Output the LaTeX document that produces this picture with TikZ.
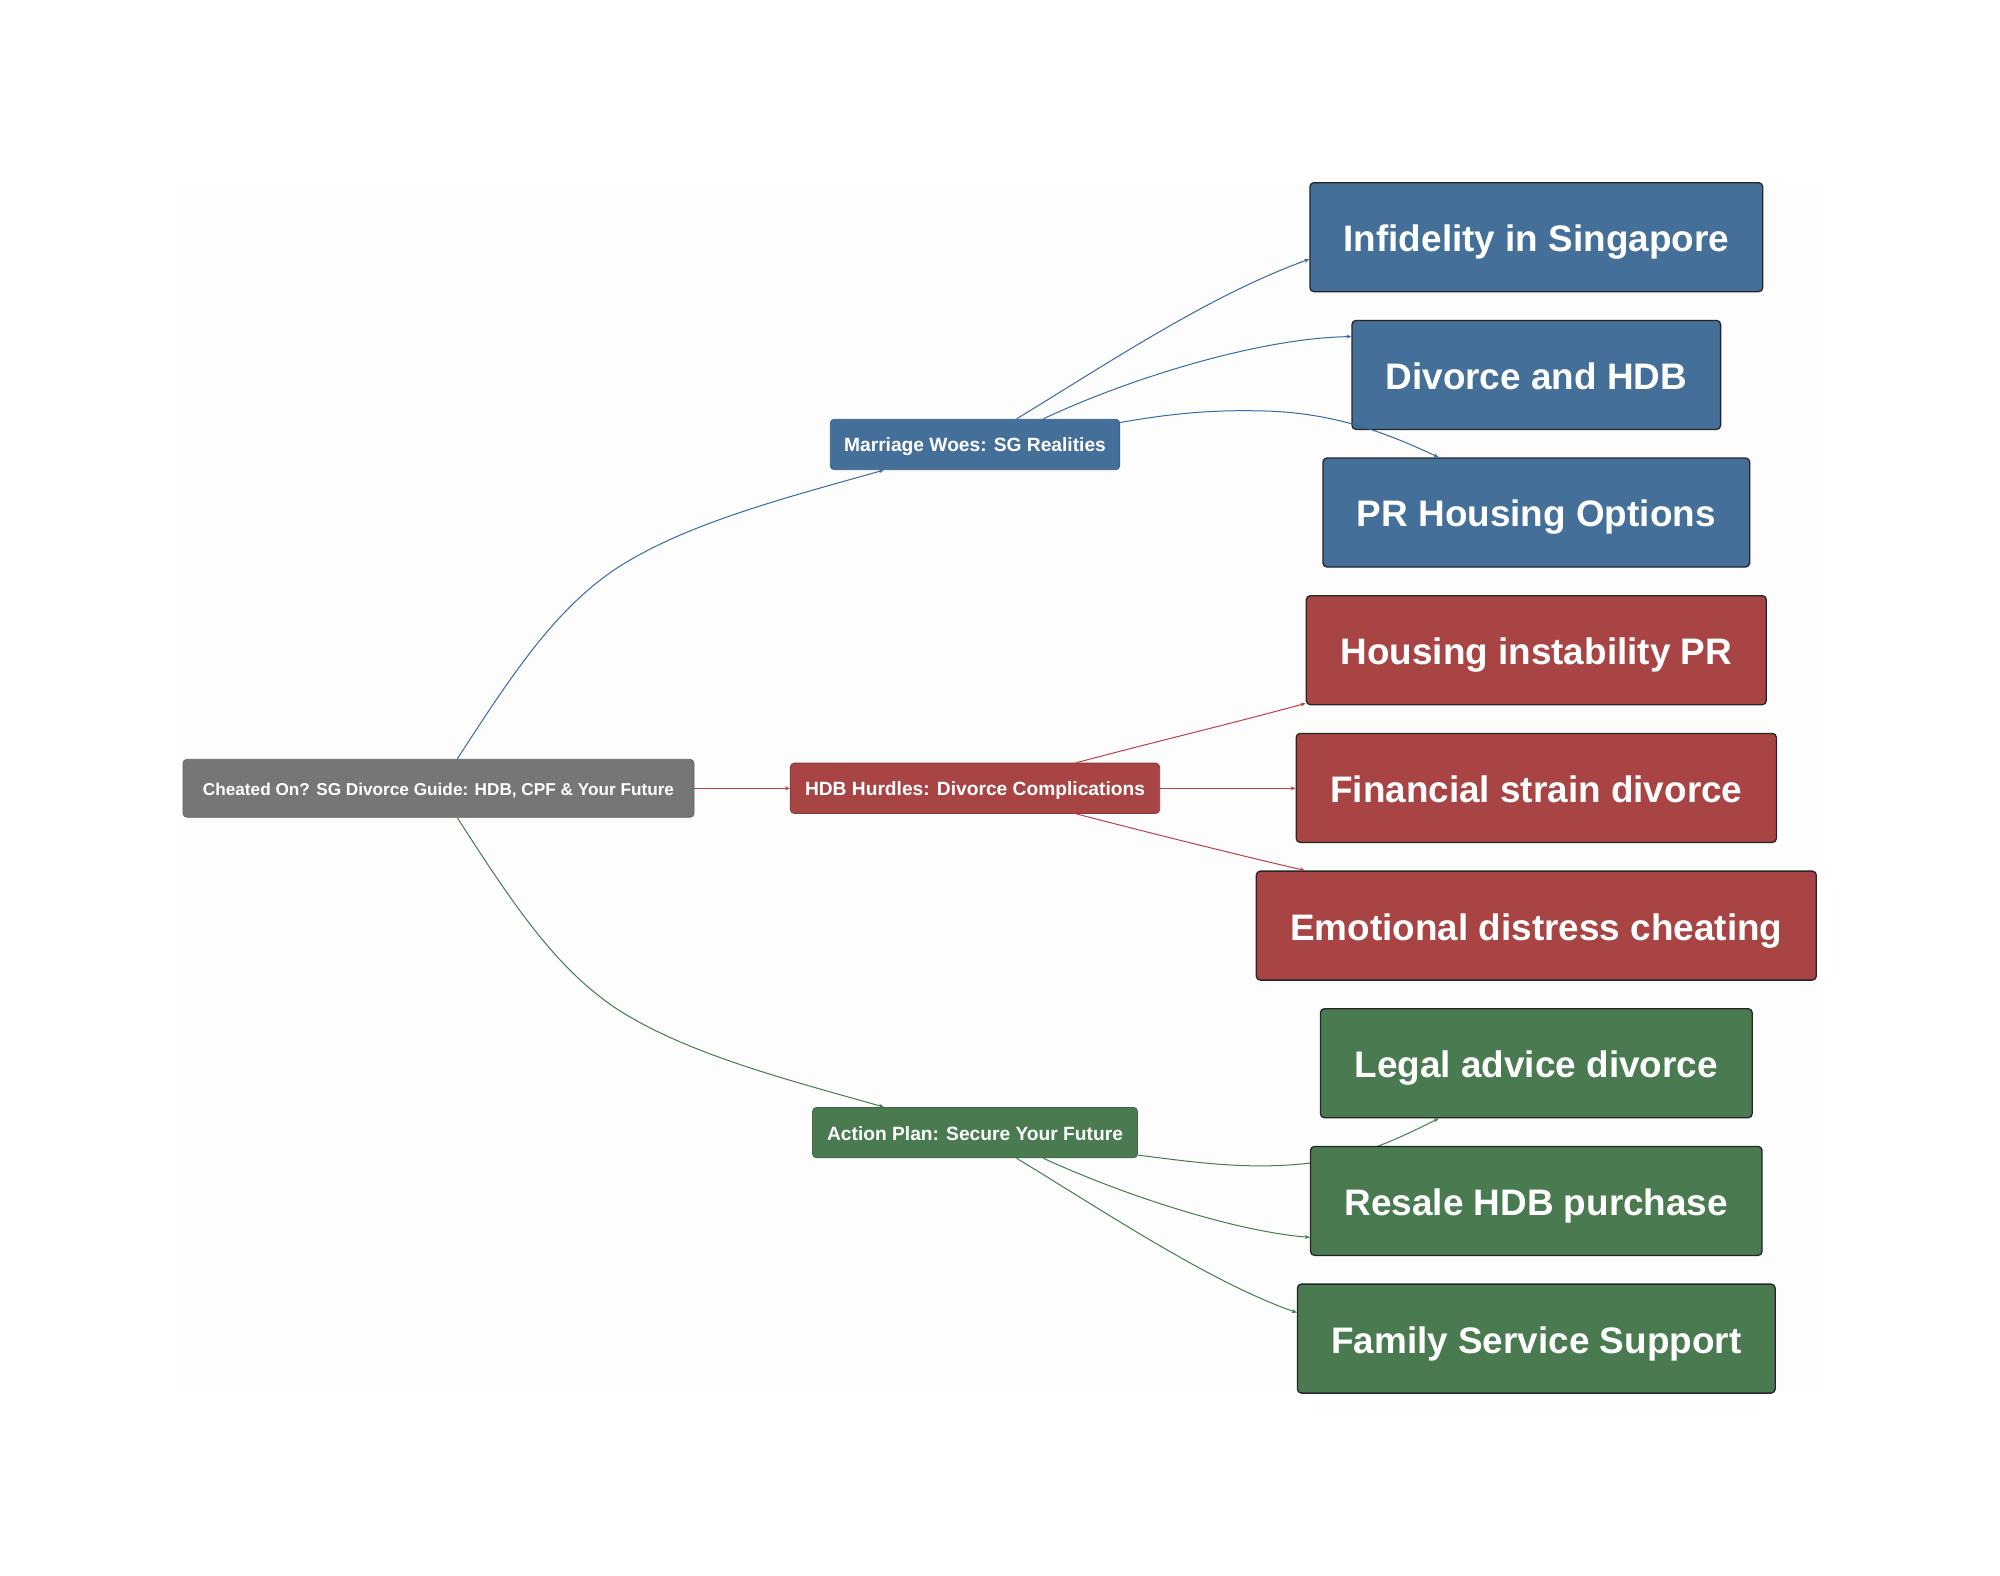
\documentclass[tikz,border=0pt]{standalone}
\usepackage{fontspec}
\setmainfont{Liberation Sans}
\usetikzlibrary{arrows.meta}
\definecolor{cblue}{HTML}{446F99}
\definecolor{cred}{HTML}{A84444}
\definecolor{cgreen}{HTML}{4A7A4F}
\definecolor{cgrey}{HTML}{767676}
\definecolor{lblue}{HTML}{3A68A3}
\definecolor{lred}{HTML}{BE4047}
\definecolor{lgreen}{HTML}{477A4C}
\definecolor{pagetint}{HTML}{FDFDFD}
\tikzset{
  basebox/.style={rectangle,rounded corners=4pt,inner sep=0pt,text=white},
  leafbox/.style={basebox,draw=black!85,line width=1.3pt,minimum height=109pt,text height=35pt,text depth=6.2pt,font=\fontsize{36.9}{44}\selectfont\bfseries},
  midbox/.style={basebox,line width=0.8pt,minimum height=50.4pt,text height=18pt,text depth=3.2pt,font=\fontsize{19.2}{23}\selectfont\bfseries},
  rootbox/.style={basebox,line width=0.8pt,minimum height=58pt,text height=16.3pt,text depth=2.9pt,font=\fontsize{17.2}{21}\selectfont\bfseries},
  edge/.style={line width=1pt,-{Stealth[length=5pt,width=4pt]}},
  bedge/.style={edge,draw=lblue},
  redge/.style={edge,draw=lred},
  gedge/.style={edge,draw=lgreen},
}
\begin{document}
\begin{tikzpicture}[x=1pt,y=-1pt]
\useasboundingbox (0,0) rectangle (2000,1576);
\fill[white] (0,0) rectangle (2000,1576);
\fill[pagetint] (183,183) rectangle (1817,1393);
% mid and root nodes
\node[rootbox,fill=cgrey,draw=cgrey!85!black,minimum width=511pt] (root) at (438.5,788.3) {Cheated On? SG Divorce Guide: HDB, CPF \& Your Future};
\node[midbox,fill=cblue,draw=cblue!85!black,minimum width=289.5pt] (mw) at (975,444.5) {Marriage Woes: SG Realities};
\node[midbox,fill=cred,draw=cred!85!black,minimum width=369.3pt] (hh) at (975,788.3) {HDB Hurdles: Divorce Complications};
\node[midbox,fill=cgreen,draw=cgreen!85!black,minimum width=325pt] (ap) at (975,1132.6) {Action Plan: Secure Your Future};
% leaves
\node[leafbox,fill=cblue,minimum width=452.8pt] (inf) at (1536.3,237.2) {Infidelity in Singapore};
\node[leafbox,fill=cblue,minimum width=368.6pt] (dh) at (1536.3,374.9) {Divorce and HDB};
\node[leafbox,fill=cblue,minimum width=426.7pt] (pr) at (1536.3,512.5) {PR Housing Options};
\node[leafbox,fill=cred,minimum width=460pt] (hi) at (1536.3,650.2) {Housing instability PR};
\node[leafbox,fill=cred,minimum width=480.2pt] (fs) at (1536.3,787.9) {Financial strain divorce};
\node[leafbox,fill=cred,minimum width=560pt] (ed) at (1536.3,925.6) {Emotional distress cheating};
\node[leafbox,fill=cgreen,minimum width=431.8pt] (la) at (1536.3,1063.2) {Legal advice divorce};
% edges root
\draw[bedge] ([xshift=18.8pt]root.north) .. controls (516,668) and (557,608) .. (617,568) .. controls (687,523) and (785,498) .. ([xshift=-91.2pt]mw.south);
\draw[redge] (root.east) -- (hh.west);
\draw[gedge] ([xshift=18.8pt]root.south) .. controls (516,909) and (557,969) .. (617,1009) .. controls (687,1054) and (785,1079) .. ([xshift=-91.2pt]ap.north);
% edges marriage
\draw[bedge] ([xshift=41.5pt]mw.north) .. controls (1110,362) and (1210,295) .. ([yshift=-22pt]inf.west);
\draw[bedge] ([xshift=68.2pt]mw.north) .. controls (1130,378) and (1260,338) .. ([yshift=38.3pt]dh.west);
\draw[bedge] ([yshift=22pt]mw.east) .. controls (1185,411) and (1225,410) .. (1265,411) .. controls (1340,413) and (1395,437) .. ([xshift=-97.6pt]pr.north);
% edges hdb
\draw[redge] ([xshift=101.4pt]hh.north) .. controls (1150,743) and (1230,724) .. ([yshift=2pt]hi.south west);
\draw[redge] (hh.east) -- (hh.east -| fs.west);
\draw[redge] ([xshift=101.4pt]hh.south) .. controls (1150,833) and (1230,853) .. ([xshift=-231.5pt]ed.north);
% action to legal runs behind the resale box
\draw[gedge] ([yshift=-22.5pt]ap.east) .. controls (1200,1163) and (1250,1170) .. (1311,1163) .. controls (1360,1157) and (1400,1138) .. ([xshift=-97.6pt]la.south);
% lower leaves
\node[leafbox,fill=cgreen,minimum width=451.5pt] (rh) at (1536.3,1200.9) {Resale HDB purchase};
\node[leafbox,fill=cgreen,minimum width=477.7pt] (fa) at (1536.3,1338.6) {Family Service Support};
\draw[gedge] ([xshift=68.2pt]ap.south) .. controls (1130,1198) and (1240,1232) .. ([yshift=-36.4pt]rh.west);
\draw[gedge] ([xshift=41.5pt]ap.south) .. controls (1110,1215) and (1210,1282) .. ([yshift=26pt]fa.west);
\end{tikzpicture}
\end{document}
